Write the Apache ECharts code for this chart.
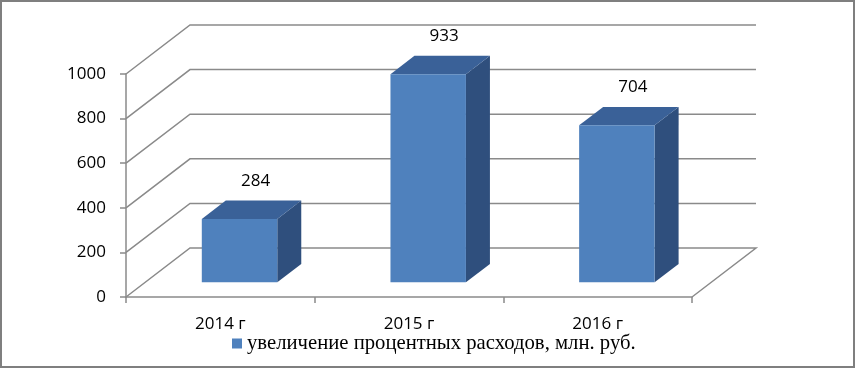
<!DOCTYPE html>
<html>
<head>
<meta charset="utf-8">
<script src="https://cdn.jsdelivr.net/npm/echarts@6/dist/echarts.min.js"></script>
<style>
  html, body { margin: 0; padding: 0; background: #fff; }
  #chart { width: 855px; height: 369px; }
</style>
</head>
<body>
<div id="chart"></div>
<script>
const years = ["2014 г", "2015 г", "2016 г"];
const values = [284, 933, 704];
const yTicks = [0, 200, 400, 600, 800, 1000];
const seriesName = "увеличение процентных расходов, млн. руб.";

// 3d look: depth of the floor in px, bar sits between F0 and F1 of it
const DX = 64, DY = -49;
const F0 = 0.3, F1 = 0.675;
const gridColor = "#8a8a8a";

const chart = echarts.init(document.getElementById("chart"));

function renderWall(params, api) {
  const cs = params.coordSys;
  const v = api.value(1);
  const y = api.coord([0, v])[1];
  const x0 = cs.x, x1 = cs.x + cs.width;
  const pts = [[x0, y], [x0 + DX, y + DY], [x1 + DX, y + DY]];
  if (v === 0) pts.push([x1, y]);
  return {
    type: "polyline",
    shape: { points: pts },
    style: { stroke: gridColor, lineWidth: 1.5, fill: null },
  };
}

function renderBar(params, api) {
  const i = api.value(0);
  const v = api.value(1);
  const base = api.coord([i, 0]);
  const top = api.coord([i, v]);
  const w = api.size([1, 0])[0] * 0.4;
  const fx = base[0] - w / 2 + DX * F0;
  const fy0 = base[1] + DY * F0;
  const fy1 = top[1] + DY * F0;
  const bx = DX * (F1 - F0), by = DY * (F1 - F0);
  return {
    type: "group",
    children: [
      {
        type: "polygon",
        shape: { points: [[fx + w, fy1], [fx + w + bx, fy1 + by], [fx + w + bx, fy0 + by], [fx + w, fy0]] },
        style: { fill: "#2f4f7d" },
      },
      {
        type: "polygon",
        shape: { points: [[fx, fy1], [fx + w, fy1], [fx + w + bx, fy1 + by], [fx + bx, fy1 + by]] },
        style: { fill: "#3a6198" },
      },
      {
        type: "rect",
        shape: { x: fx, y: fy1, width: w, height: fy0 - fy1 },
        style: { fill: "#4f81bd" },
      },
      {
        type: "text",
        style: {
          text: String(v),
          x: fx + w / 2 + 16,
          y: fy1 - 38,
          align: "center",
          verticalAlign: "middle",
          fill: "#000",
          font: "17px 'Open Sans'",
        },
      },
    ],
  };
}

chart.setOption({
  animation: false,
  graphic: [
    {
      type: "rect",
      shape: { x: 1, y: 1, width: 853, height: 366 },
      style: { fill: null, stroke: "#7f7f7f", lineWidth: 2 },
    },
  ],
  legend: {
    left: 227,
    top: 328,
    icon: "rect",
    itemWidth: 10,
    itemHeight: 10,
    data: [seriesName],
    textStyle: { fontFamily: "Liberation Serif", fontSize: 20.7, color: "#000" },
  },
  grid: { left: 126, right: 163, top: 74, bottom: 72 },
  xAxis: {
    type: "category",
    data: years,
    axisLine: { lineStyle: { color: gridColor, width: 1.5 } },
    axisTick: { show: true, length: 6, lineStyle: { color: gridColor, width: 1.5 } },
    axisLabel: { color: "#000", fontFamily: "Open Sans", fontSize: 17, margin: 19 },
  },
  yAxis: {
    type: "value",
    min: 0,
    max: 1000,
    interval: 200,
    axisLine: { show: true, lineStyle: { color: gridColor, width: 1.5 } },
    axisTick: { show: true, length: 6, lineStyle: { color: gridColor, width: 1.5 } },
    axisLabel: { color: "#000", fontFamily: "Open Sans", fontSize: 17, margin: 20, formatter: (v) => String(v) },
    splitLine: { show: false },
  },
  series: [
    {
      type: "custom",
      name: "walls",
      silent: true,
      renderItem: renderWall,
      data: yTicks.map((v) => [0, v]),
      z: 1,
    },
    {
      type: "custom",
      name: seriesName,
      renderItem: renderBar,
      itemStyle: { color: "#4f81bd" },
      data: values.map((v, i) => [i, v]),
      z: 2,
    },
  ],
});
</script>
</body>
</html>
